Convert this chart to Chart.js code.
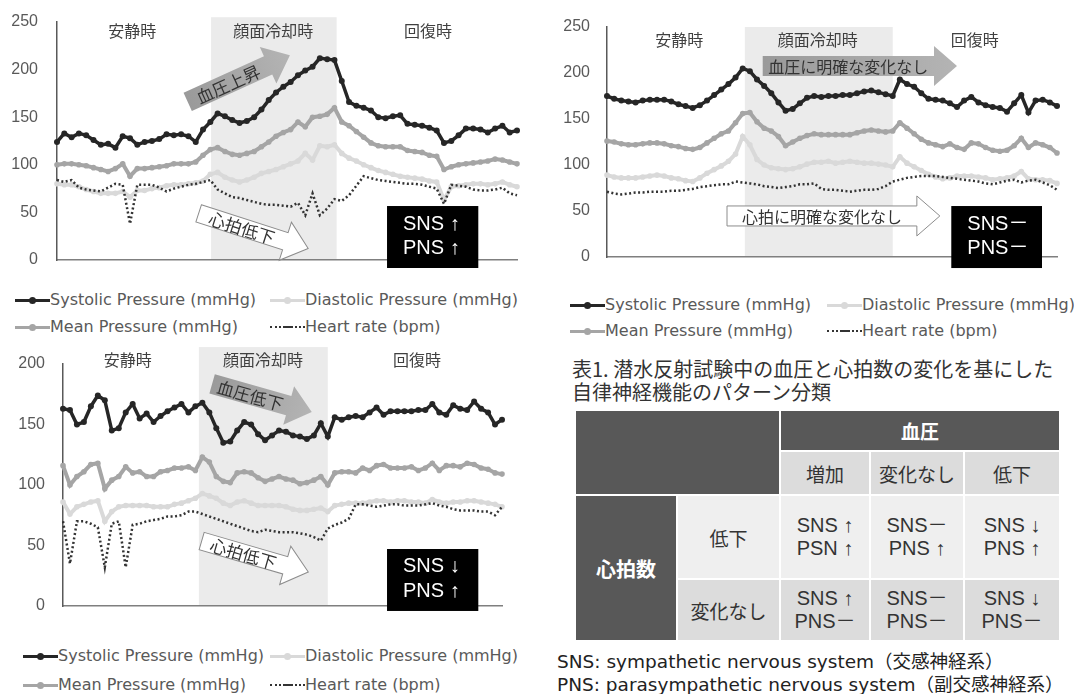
<!DOCTYPE html>
<html lang="ja">
<head>
<meta charset="utf-8">
<script src="https://cdn.jsdelivr.net/npm/chart.js@4.4.0/dist/chart.umd.min.js"></script>
<style>
  html, body { margin: 0; padding: 0; background: #fff; }
  body { width: 1074px; height: 694px; position: relative; overflow: hidden;
         font-family: "Noto Sans CJK JP", sans-serif; }
  .box { position: absolute; }
  .lg { position: absolute; height: 20px; line-height: 20px; white-space: nowrap;
        font-family: "DejaVu Sans", "Noto Sans CJK JP", sans-serif; font-size: 16px; color: #595959; }
  .smp { display: inline-block; width: 35px; height: 20px; position: relative; vertical-align: top; }
  .smp .ln { position: absolute; left: 0; right: 0; top: 9px; height: 3px; }
  .smp .dt { position: absolute; left: 14px; top: 7px; width: 7px; height: 7px; border-radius: 50%; }
  .title { position: absolute; left: 572px; top: 357px; font-size: 20px; line-height: 23px; color: #333; }
  .grid { position: absolute; left: 576px; top: 411px; width: 483px; height: 229px;
          display: grid; gap: 2px; background: #fff;
          grid-template-columns: 100px 101px 88px 92px 1fr;
          grid-template-rows: 39px 42px 82px 1fr; }
  .grid div { display: flex; align-items: center; justify-content: center; text-align: center;
              font-size: 19px; color: #333; line-height: 23px; }
  .grid .dk { background: #585858; color: #fff; font-weight: bold; }
  .grid .l1 { background: #efefef; }
  .grid .l2 { background: #dcdcdc; }
  .grid .cell { font-family: "Liberation Sans", "Noto Sans CJK JP", sans-serif; font-size: 20px; }
  .note { position: absolute; left: 557px; font-family: "DejaVu Sans", "Noto Sans CJK JP", sans-serif;
          font-size: 18.5px; color: #222; white-space: nowrap; }
</style>
</head>
<body>

<div class="box" style="left:0;top:0;width:540px;height:275px"><canvas id="c1"></canvas></div>
<div class="box" style="left:545px;top:0;width:529px;height:275px"><canvas id="c2"></canvas></div>
<div class="box" style="left:0;top:345px;width:540px;height:275px"><canvas id="c3"></canvas></div>
<div id="legends"></div>

<div class="title">表1. 潜水反射試験中の血圧と心拍数の変化を基にした<br>自律神経機能のパターン分類</div>
<div class="grid">
  <div class="dk" style="grid-column:1/3;grid-row:1/3"></div>
  <div class="dk" style="grid-column:3/6;grid-row:1">血圧</div>
  <div class="l2">増加</div>
  <div class="l2">変化なし</div>
  <div class="l2">低下</div>
  <div class="dk" style="grid-column:1;grid-row:3/5;font-size:20px">心拍数</div>
  <div class="l1">低下</div>
  <div class="l1 cell">SNS ↑<br>PSN ↑</div>
  <div class="l1 cell">SNS－<br>PNS ↑</div>
  <div class="l1 cell">SNS ↓<br>PNS ↑</div>
  <div class="l2">変化なし</div>
  <div class="l2 cell">SNS ↑<br>PNS－</div>
  <div class="l2 cell">SNS－<br>PNS－</div>
  <div class="l2 cell">SNS ↓<br>PNS－</div>
</div>
<div class="note" style="top:647px">SNS: sympathetic nervous system（交感神経系）</div>
<div class="note" style="top:670px">PNS: parasympathetic nervous system（副交感神経系）</div>

<script>
// ── データ（64サンプル） ─────────────────────────────────────
// 上段左: 血圧上昇 / 心拍低下
const SYS_1 = [124,133,129,133,131,126,121,122,118,130, 128,121,124,125,127,132,131,132,130,124,
  137,145,154,151,147,144,146,150,158,168, 176,182,187,194,199,203,212,211,210,188,
  166,162,160,157,150,149,151,152,143,142, 141,139,136,123,125,131,138,138,137,134, 138,141,134,136];
const DIA_1 = [80,79,79,77,74,72,70,70,70,72, 66,73,73,75,76,78,79,79,80,81,
  83,90,92,87,84,82,84,87,91,93, 95,98,101,104,112,105,120,119,121,112,
  107,104,100,97,94,92,90,88,87,86, 85,83,82,63,77,78,79,80,80,79, 80,82,79,77];
const MEAN_1 = [100,101,101,100,99,97,95,93,96,101, 88,96,96,97,98,99,101,101,101,103,
  110,116,118,114,111,110,112,114,119,124, 130,134,137,145,140,150,151,153,160,145,
  141,135,129,123,120,119,119,119,115,114, 113,110,109,95,98,100,101,102,103,104, 106,105,103,101];
const HR_1 = [84,82,84,76,74,73,72,76,80,79, 38,79,79,79,76,72,75,77,79,80,
  82,84,74,70,66,65,63,61,59,58, 58,57,56,60,47,70,47,54,64,62,
  68,78,88,86,84,83,82,81,80,80, 79,77,75,59,79,78,77,74,73,73, 74,76,70,68];

// 上段右: 変化なし / 変化なし
const SYS_2 = [175,172,170,169,168,170,171,171,171,169, 166,164,162,165,170,176,182,188,195,205,
  202,193,186,178,168,159,161,167,173,175, 174,175,175,176,176,178,180,181,179,177,
  175,193,188,185,178,172,171,170,167,163, 170,174,168,165,163,162,158,167,176,157, 170,171,168,164];
const DIA_2 = [89,87,86,86,86,87,88,89,88,86, 85,83,82,86,91,95,99,104,112,131,
  122,106,100,97,96,95,96,98,101,103, 103,104,102,103,104,103,102,102,101,100,
  98,109,102,98,94,90,87,85,86,88, 88,88,87,86,84,85,86,88,93,85, 84,84,83,80];
const MEAN_2 = [126,125,123,122,122,123,124,124,123,121, 120,118,117,119,124,129,134,137,146,156,
  157,147,140,137,131,121,125,129,132,134, 133,133,133,133,133,135,137,138,137,136,
  137,146,140,134,128,124,122,120,123,119, 117,124,123,119,116,115,116,121,129,119, 124,122,119,113];
const HR_2 = [71,69,68,69,70,70,71,71,71,72, 72,73,74,76,77,78,79,79,82,81,
  80,79,77,76,75,76,77,79,79,80, 74,73,73,72,71,72,73,73,74,77,
  82,84,86,87,88,88,88,87,86,85, 84,83,82,80,79,81,83,84,81,83, 84,81,78,73];

// 下段左: 血圧低下 / 心拍低下
const SYS_3 = [163,162,150,152,165,174,170,145,147,160, 167,155,159,152,157,161,164,167,160,165,
  168,160,147,135,136,145,152,150,142,137, 141,145,144,141,140,138,141,151,140,156,
  154,156,157,156,160,164,158,161,161,161, 161,162,162,167,160,158,166,163,162,169, 163,160,150,154];
const DIA_3 = [86,76,82,84,86,87,70,78,82,83, 83,83,83,82,82,82,84,85,87,89,
  93,91,89,85,83,86,87,85,83,83, 83,83,82,80,79,79,80,81,78,83,
  84,85,85,85,86,87,87,86,87,87, 86,86,85,88,86,85,86,86,87,87, 86,85,84,82];
const MEAN_3 = [116,100,107,111,117,118,97,104,107,115, 110,111,107,107,111,112,114,114,115,112,
  123,119,107,103,102,110,111,110,106,103, 105,107,105,104,101,102,104,107,100,110,
  111,111,110,114,112,116,117,114,114,114, 115,112,114,118,112,116,116,115,118,117, 114,113,110,109];
const HR_3 = [70,35,70,70,68,65,32,68,70,32, 67,68,70,71,72,74,74,75,78,78,
  76,74,72,70,68,66,64,62,61,63, 62,61,61,61,60,59,57,54,64,67,
  69,72,84,84,83,82,83,84,84,83, 83,83,84,85,83,82,80,79,79,79, 78,78,75,82];

const SAMPLES = SYS_1.map((_, i) => i + 1);
const PHASES = ["安静時", "顔面冷却時", "回復時"];
const SERIES_NAMES = ["Systolic Pressure (mmHg)", "Diastolic Pressure (mmHg)",
  "Mean Pressure (mmHg)", "Heart rate (bpm)"];

// ── 系列スタイル ─────────────────────────────────────────────
const STYLE = {
  sys:  { color: "#262626", width: 3.5, r: 3, order: 0 },
  dia:  { color: "#d9d9d9", width: 4, r: 2.8, order: 3 },
  mean: { color: "#a5a5a5", width: 4, r: 2.8, order: 2 },
  hr:   { color: "#333333", width: 2.5, r: 0, order: 1, dash: [2, 2.5] },
};

function ds(label, data, st) {
  return {
    label, data,
    borderColor: st.color, backgroundColor: st.color,
    pointBackgroundColor: st.color, pointBorderWidth: 0,
    borderWidth: st.width, pointRadius: st.r,
    borderDash: st.dash || [], order: st.order, tension: 0,
  };
}

// ── 注釈（網掛け・区間名・矢印・SNSボックス）: データ座標で指定 ──
const JP = '"Noto Sans CJK JP"';
const ANNOT = {
  c1: {
    band: [21.1, 38.3], bandTop: 255, phaseX: [10.3, 29.6, 50.8], phaseY: 241,
    arrows: [
      { from: [17.9, 166], to: [31.9, 215], gray: true, body: 20, head: 40, headLen: 24,
        label: "血圧上昇", size: 17 },
      { from: [19.4, 49], to: [34.4, 12], gray: false, body: 18, head: 40, headLen: 24,
        label: "心拍低下", size: 17 },
    ],
    sns: { x: [45.2, 57.7], y: [56.7, -8.4], lines: ["SNS ↑", "PNS ↑"] },
  },
  c2: {
    band: [19.3, 40.0], bandTop: 250, phaseX: [10.1, 29.5, 51.5], phaseY: 236,
    arrows: [
      { from: [21.8, 207.6], to: [49.0, 207.6], gray: true, body: 20, head: 40, headLen: 23,
        label: "血圧に明確な変化なし", size: 16 },
      { from: [16.8, 44.6], to: [46.6, 44.6], gray: false, body: 20, head: 40, headLen: 23,
        label: "心拍に明確な変化なし", size: 16 },
    ],
    sns: { x: [48.2, 60.9], y: [55.4, -12], lines: ["SNS－", "PNS－"] },
  },
  c3: {
    band: [19.5, 38.0], bandTop: 214, phaseX: [9.3, 28.7, 50.8], phaseY: 203,
    arrows: [
      { from: [21.4, 183.5], to: [35.7, 160.3], gray: true, body: 20, head: 40, headLen: 24,
        label: "血圧低下", size: 17 },
      { from: [19.9, 53.7], to: [35.2, 28.1], gray: false, body: 18, head: 40, headLen: 24,
        label: "心拍低下", size: 17 },
    ],
    sns: { x: [46.5, 59.6], y: [47.1, -4.1], lines: ["SNS ↓", "PNS ↑"] },
  },
};

function drawArrow(ctx, x0, y0, x1, y1, a) {
  const len = Math.hypot(x1 - x0, y1 - y0);
  const ang = Math.atan2(y1 - y0, x1 - x0);
  const bh = a.body / 2, hh = a.head / 2, hs = len - a.headLen;
  ctx.save();
  ctx.translate(x0, y0);
  ctx.rotate(ang);
  ctx.beginPath();
  ctx.moveTo(0, -bh); ctx.lineTo(hs, -bh); ctx.lineTo(hs, -hh); ctx.lineTo(len, 0);
  ctx.lineTo(hs, hh); ctx.lineTo(hs, bh); ctx.lineTo(0, bh); ctx.closePath();
  if (a.gray) {
    const g = ctx.createLinearGradient(0, 0, len, 0);
    g.addColorStop(0, "#9a9a9a");
    g.addColorStop(1, "#b4b4b4");
    ctx.fillStyle = g;
    ctx.fill();
  } else {
    ctx.fillStyle = "#fff";
    ctx.fill();
    ctx.strokeStyle = "#8c8c8c";
    ctx.lineWidth = 1;
    ctx.stroke();
  }
  ctx.fillStyle = "#333";
  ctx.font = a.size + "px " + JP;
  ctx.textAlign = "center";
  ctx.textBaseline = "middle";
  ctx.fillText(a.label, hs / 2, 1);
  ctx.restore();
}

const overlayPlugin = {
  id: "overlay",
  beforeDatasetsDraw(chart) {
    const o = ANNOT[chart.canvas.id];
    const { ctx, chartArea, scales: { x, y } } = chart;
    const x0 = x.getPixelForValue(o.band[0]);
    const x1 = x.getPixelForValue(o.band[1]);
    const top = y.getPixelForValue(o.bandTop);
    ctx.save();
    ctx.fillStyle = "#ebebeb";
    ctx.fillRect(x0, top, x1 - x0, chartArea.bottom - top - 1);
    ctx.fillStyle = "#404040";
    ctx.font = "16px " + JP;
    ctx.textAlign = "center";
    ctx.textBaseline = "middle";
    o.phaseX.forEach((px, i) => {
      ctx.fillText(PHASES[i], x.getPixelForValue(px), y.getPixelForValue(o.phaseY));
    });
    ctx.restore();
  },
  afterDatasetsDraw(chart) {
    const o = ANNOT[chart.canvas.id];
    const { ctx, scales: { x, y } } = chart;
    o.arrows.forEach((a) => {
      drawArrow(ctx, x.getPixelForValue(a.from[0]), y.getPixelForValue(a.from[1]),
        x.getPixelForValue(a.to[0]), y.getPixelForValue(a.to[1]), a);
    });
    const b = o.sns;
    const bx0 = x.getPixelForValue(b.x[0]), bx1 = x.getPixelForValue(b.x[1]);
    const by0 = y.getPixelForValue(b.y[0]), by1 = y.getPixelForValue(b.y[1]);
    ctx.save();
    ctx.fillStyle = "#000";
    ctx.fillRect(bx0, by0, bx1 - bx0, by1 - by0);
    ctx.fillStyle = "#fff";
    ctx.font = '20px "Liberation Sans", ' + JP;
    ctx.textAlign = "left";
    ctx.textBaseline = "middle";
    const h = by1 - by0;
    ctx.fillText(b.lines[0], bx0 + 16, by0 + h * 0.29);
    ctx.fillText(b.lines[1], bx0 + 16, by0 + h * 0.69);
    ctx.restore();
  },
};

function makeChart(id, sets, cfg) {
  new Chart(document.getElementById(id), {
    type: "line",
    data: {
      labels: SAMPLES,
      datasets: [
        ds(SERIES_NAMES[0], sets[0], STYLE.sys),
        ds(SERIES_NAMES[1], sets[1], STYLE.dia),
        ds(SERIES_NAMES[2], sets[2], STYLE.mean),
        ds(SERIES_NAMES[3], sets[3], STYLE.hr),
      ],
    },
    options: {
      responsive: true,
      maintainAspectRatio: false,
      animation: false,
      devicePixelRatio: 1,
      layout: { padding: cfg.padding },
      plugins: {
        legend: { display: false },
        tooltip: { enabled: false },
      },
      scales: {
        x: {
          grid: { display: false },
          ticks: { display: false },
          border: { color: "#7f7f7f", width: 1.5 },
          afterFit: (s) => { s.height = 0; },
        },
        y: {
          min: 0, max: cfg.max,
          grid: { display: false },
          border: { color: "#595959", width: 1.5 },
          ticks: {
            stepSize: 50, padding: cfg.tickPad, color: "#595959",
            font: { family: "Liberation Sans", size: 16 },
          },
          // 幅を固定し、目盛ラベル由来の上下余白は無効化
          afterFit: (s) => {
            s.width = cfg.yWidth;
            s.paddingTop = 0;
            s.paddingBottom = 0;
          },
        },
      },
    },
    plugins: [overlayPlugin],
  });
}

makeChart("c1", [SYS_1, DIA_1, MEAN_1, HR_1], {
  max: 250, yWidth: 57, tickPad: 11,
  padding: { top: 22, right: 23, bottom: 15, left: 0 },
});
makeChart("c2", [SYS_2, DIA_2, MEAN_2, HR_2], {
  max: 250, yWidth: 62, tickPad: 9,
  padding: { top: 27, right: 17, bottom: 18, left: 0 },
});
makeChart("c3", [SYS_3, DIA_3, MEAN_3, HR_3], {
  max: 200, yWidth: 63, tickPad: 10,
  padding: { top: 19, right: 38, bottom: 14, left: 0 },
});

// ── 凡例（2列×2行） ──────────────────────────────────────────
const LEGEND_POS = [
  { x: [15, 270], y: [290, 317] },
  { x: [570, 827], y: [295, 321] },
  { x: [23, 270], y: [646, 675] },
];
const LEGEND_CELLS = [
  { name: 0, st: STYLE.sys, col: 0, row: 0 },
  { name: 1, st: STYLE.dia, col: 1, row: 0 },
  { name: 2, st: STYLE.mean, col: 0, row: 1 },
  { name: 3, st: STYLE.hr, col: 1, row: 1 },
];
const lgRoot = document.getElementById("legends");
LEGEND_POS.forEach((p) => {
  LEGEND_CELLS.forEach((c) => {
    const el = document.createElement("div");
    el.className = "lg";
    el.style.left = p.x[c.col] + "px";
    el.style.top = p.y[c.row] + "px";
    const smp = document.createElement("span");
    smp.className = "smp";
    if (c.st.dash) {
      smp.innerHTML = '<span class="ln" style="top:9px;height:0;border-top:2px dotted ' + c.st.color +
        '"></span><span class="ln" style="left:13px;right:13px;top:9px;height:2px;background:' + c.st.color + '"></span>';
    } else {
      smp.innerHTML = '<span class="ln" style="background:' + c.st.color + '"></span>' +
        '<span class="dt" style="background:' + c.st.color + '"></span>';
    }
    el.appendChild(smp);
    el.appendChild(document.createTextNode(SERIES_NAMES[c.name]));
    lgRoot.appendChild(el);
  });
});
</script>
</body>
</html>
